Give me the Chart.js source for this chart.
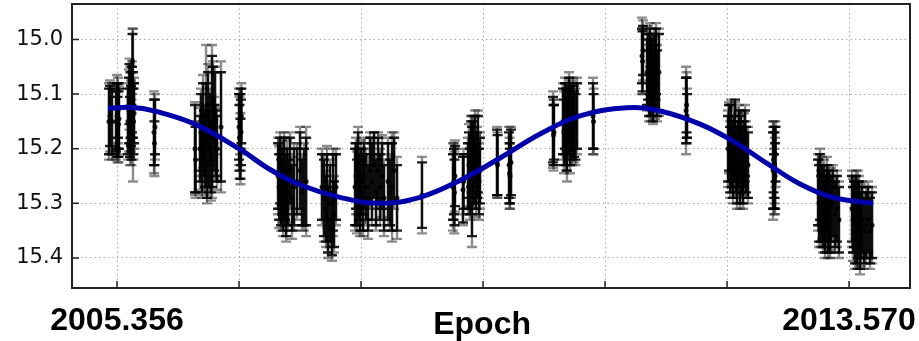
<!DOCTYPE html>
<html lang="en">
<head>
    <meta charset="UTF-8">
    <title>Light curve - Epoch</title>
    <script src="https://cdn.jsdelivr.net/npm/chart.js"></script>
    <style>
        body {
            margin: 0;
            padding: 0;
            background-color: #ffffff;
        }

        .chart-box {
            position: relative;
            width: 919px;
            height: 341px;
        }
    </style>
</head>
<body>
    <div class="chart-box">
        <canvas id="lightCurve"></canvas>
    </div>

    <script>
        // axis ticks
        const xTicks = [2005.356, 2006.725, 2008.094, 2009.463, 2010.832, 2012.201, 2013.570];
        const xTickLabels = ['2005.356', '', '', '', '', '', '2013.570'];
        const yTicks = [15.0, 15.1, 15.2, 15.3, 15.4];

        // observations, one line per season: epoch, magnitude, inner (black) error, outer (grey) error
        const epochs = [
            2005.266, 2005.277, 2005.300,
            2005.345, 2005.356, 2005.362, 2005.367, 2005.373, 2005.378,
            2005.479, 2005.490, 2005.496, 2005.502, 2005.507, 2005.513, 2005.518, 2005.524, 2005.530, 2005.535, 2005.541, 2005.547,
            2005.771, 2005.776, 2005.782,
            2006.231, 2006.237,
            2006.287, 2006.298, 2006.310, 2006.321, 2006.332, 2006.343, 2006.355, 2006.366, 2006.377, 2006.388, 2006.399, 2006.411, 2006.422, 2006.433, 2006.445, 2006.456, 2006.467, 2006.478, 2006.523,
            2006.725, 2006.730, 2006.736, 2006.741, 2006.747, 2006.752,
            2007.163, 2007.175, 2007.186, 2007.197, 2007.208, 2007.220, 2007.231, 2007.242, 2007.253, 2007.265, 2007.276, 2007.297, 2007.320, 2007.342, 2007.376, 2007.410, 2007.432, 2007.455, 2007.478,
            2007.656, 2007.678, 2007.701, 2007.712, 2007.723, 2007.746, 2007.768, 2007.780, 2007.791, 2007.813,
            2008.027, 2008.038, 2008.050, 2008.061, 2008.072, 2008.083, 2008.095, 2008.117, 2008.128, 2008.150, 2008.173, 2008.195, 2008.217, 2008.240, 2008.262, 2008.285, 2008.307, 2008.330, 2008.352, 2008.397, 2008.420, 2008.442, 2008.465, 2008.498,
            2008.778,
            2009.126, 2009.137, 2009.142, 2009.148,
            2009.238, 2009.244,
            2009.294, 2009.305, 2009.316, 2009.328, 2009.339, 2009.350, 2009.361, 2009.373, 2009.384, 2009.395, 2009.406, 2009.418, 2009.429,
            2009.620, 2009.626,
            2009.755, 2009.761, 2009.766, 2009.777,
            2010.248, 2010.254, 2010.259,
            2010.360, 2010.371, 2010.383, 2010.394, 2010.405, 2010.416, 2010.428, 2010.439, 2010.450, 2010.461, 2010.473, 2010.484, 2010.500, 2010.518,
            2010.697, 2010.703,
            2011.247, 2011.253, 2011.258,
            2011.303, 2011.314, 2011.326, 2011.337, 2011.348, 2011.359, 2011.371, 2011.382, 2011.393, 2011.404, 2011.416, 2011.437,
            2011.741, 2011.747, 2011.752,
            2012.212, 2012.223, 2012.235, 2012.246, 2012.257, 2012.268, 2012.280, 2012.291, 2012.302, 2012.313, 2012.325, 2012.336, 2012.347, 2012.358, 2012.370, 2012.381, 2012.392, 2012.403, 2012.414, 2012.436,
            2012.717, 2012.723, 2012.728, 2012.734, 2012.740, 2012.745,
            2013.222, 2013.233, 2013.245, 2013.256, 2013.267, 2013.278, 2013.290, 2013.301, 2013.312, 2013.323, 2013.335, 2013.346, 2013.357, 2013.368, 2013.390, 2013.412, 2013.435, 2013.457,
            2013.603, 2013.614, 2013.626, 2013.637, 2013.648, 2013.659, 2013.670, 2013.682, 2013.693, 2013.704, 2013.716, 2013.738, 2013.760, 2013.783, 2013.805, 2013.828
        ];

        const mags = [
            15.150, 15.140, 15.150,
            15.150, 15.140, 15.160, 15.130, 15.155, 15.145,
            15.150, 15.130, 15.100, 15.160, 15.120, 15.140, 15.170, 15.110, 15.040, 15.120, 15.150, 15.135,
            15.170, 15.190, 15.160,
            15.200, 15.220,
            15.200, 15.170, 15.220, 15.150, 15.190, 15.210, 15.140, 15.230, 15.120, 15.200, 15.160, 15.220, 15.150, 15.110, 15.180, 15.130, 15.190, 15.200, 15.160,
            15.160, 15.180, 15.150, 15.200, 15.170, 15.140,
            15.250, 15.270, 15.240, 15.280, 15.260, 15.290, 15.250, 15.270, 15.300, 15.260, 15.280, 15.240, 15.290, 15.270, 15.260, 15.240, 15.280, 15.270, 15.260,
            15.270, 15.290, 15.310, 15.270, 15.330, 15.300, 15.340, 15.280, 15.320, 15.270,
            15.270, 15.250, 15.280, 15.240, 15.270, 15.290, 15.260, 15.280, 15.250, 15.270, 15.290, 15.240, 15.260, 15.230, 15.280, 15.240, 15.270, 15.250, 15.290, 15.260, 15.280, 15.270, 15.240, 15.290,
            15.285,
            15.270, 15.260, 15.280, 15.250,
            15.275, 15.260,
            15.250, 15.230, 15.260, 15.210, 15.260, 15.220, 15.240, 15.200, 15.250, 15.230, 15.210, 15.260, 15.240,
            15.225, 15.230,
            15.230, 15.245, 15.250, 15.225,
            15.165, 15.175, 15.170,
            15.150, 15.170, 15.140, 15.160, 15.180, 15.150, 15.130, 15.170, 15.145, 15.160, 15.135, 15.155, 15.160, 15.140,
            15.140, 15.150,
            15.030, 15.040, 15.020,
            15.060, 15.050, 15.080, 15.040, 15.070, 15.060, 15.090, 15.050, 15.070, 15.040, 15.080, 15.060,
            15.130, 15.120, 15.140,
            15.200, 15.180, 15.220, 15.190, 15.210, 15.230, 15.200, 15.180, 15.220, 15.240, 15.210, 15.190, 15.230, 15.200, 15.220, 15.240, 15.210, 15.190, 15.220, 15.230,
            15.240, 15.220, 15.260, 15.230, 15.250, 15.210,
            15.280, 15.300, 15.270, 15.310, 15.290, 15.320, 15.300, 15.330, 15.310, 15.290, 15.320, 15.300, 15.330, 15.310, 15.300, 15.320, 15.310, 15.330,
            15.310, 15.330, 15.320, 15.340, 15.310, 15.350, 15.330, 15.320, 15.360, 15.340, 15.330, 15.350, 15.340, 15.330, 15.350, 15.340
        ];

        const errIn = [
            0.060, 0.055, 0.060,
            0.055, 0.060, 0.055, 0.050, 0.060, 0.055,
            0.060, 0.060, 0.055, 0.055, 0.060, 0.055, 0.050, 0.060, 0.050, 0.060, 0.060, 0.055,
            0.060, 0.040, 0.050,
            0.080, 0.060,
            0.060, 0.070, 0.060, 0.070, 0.060, 0.060, 0.060, 0.060, 0.060, 0.070, 0.060, 0.060, 0.120, 0.060, 0.060, 0.070, 0.060, 0.060, 0.100,
            0.060, 0.060, 0.050, 0.055, 0.060, 0.050,
            0.060, 0.060, 0.060, 0.060, 0.060, 0.060, 0.070, 0.060, 0.060, 0.060, 0.060, 0.060, 0.060, 0.070, 0.060, 0.070, 0.060, 0.070, 0.080,
            0.060, 0.070, 0.060, 0.060, 0.060, 0.070, 0.055, 0.070, 0.060, 0.060,
            0.070, 0.060, 0.060, 0.070, 0.060, 0.060, 0.060, 0.070, 0.060, 0.060, 0.060, 0.060, 0.070, 0.060, 0.060, 0.060, 0.060, 0.060, 0.060, 0.070, 0.060, 0.080, 0.060, 0.060,
            0.060,
            0.060, 0.060, 0.060, 0.055,
            0.060, 0.050,
            0.060, 0.060, 0.060, 0.060, 0.100, 0.070, 0.060, 0.060, 0.060, 0.060, 0.070, 0.060, 0.060,
            0.060, 0.055,
            0.060, 0.055, 0.050, 0.060,
            0.060, 0.055, 0.050,
            0.060, 0.060, 0.060, 0.070, 0.060, 0.060, 0.060, 0.060, 0.060, 0.060, 0.055, 0.060, 0.060, 0.060,
            0.060, 0.050,
            0.050, 0.055, 0.045,
            0.060, 0.060, 0.060, 0.060, 0.070, 0.060, 0.060, 0.060, 0.060, 0.060, 0.060, 0.070,
            0.060, 0.050, 0.040,
            0.060, 0.060, 0.060, 0.070, 0.060, 0.060, 0.060, 0.070, 0.060, 0.060, 0.060, 0.060, 0.070, 0.060, 0.060, 0.060, 0.060, 0.060, 0.060, 0.060,
            0.070, 0.060, 0.050, 0.060, 0.060, 0.050,
            0.060, 0.070, 0.060, 0.060, 0.060, 0.060, 0.070, 0.060, 0.060, 0.060, 0.070, 0.060, 0.060, 0.060, 0.060, 0.060, 0.060, 0.060,
            0.060, 0.060, 0.060, 0.070, 0.060, 0.060, 0.070, 0.060, 0.060, 0.060, 0.060, 0.060, 0.060, 0.060, 0.060, 0.060
        ];

        const errOut = [
            0.070, 0.065, 0.070,
            0.070, 0.075, 0.065, 0.060, 0.070, 0.065,
            0.070, 0.075, 0.065, 0.070, 0.070, 0.065, 0.060, 0.070, 0.060, 0.140, 0.070, 0.065,
            0.075, 0.060, 0.060,
            0.085, 0.070,
            0.075, 0.080, 0.070, 0.085, 0.070, 0.075, 0.130, 0.070, 0.075, 0.080, 0.070, 0.075, 0.140, 0.070, 0.075, 0.080, 0.070, 0.075, 0.120,
            0.070, 0.075, 0.060, 0.065, 0.070, 0.060,
            0.070, 0.075, 0.070, 0.070, 0.075, 0.070, 0.080, 0.070, 0.070, 0.075, 0.070, 0.070, 0.075, 0.080, 0.070, 0.080, 0.070, 0.080, 0.100,
            0.070, 0.080, 0.070, 0.075, 0.070, 0.080, 0.065, 0.080, 0.070, 0.070,
            0.080, 0.070, 0.075, 0.080, 0.070, 0.070, 0.075, 0.080, 0.070, 0.070, 0.075, 0.070, 0.080, 0.060, 0.070, 0.070, 0.070, 0.075, 0.070, 0.080, 0.070, 0.100, 0.070, 0.075,
            0.070,
            0.080, 0.070, 0.075, 0.065,
            0.065, 0.060,
            0.070, 0.075, 0.070, 0.070, 0.120, 0.080, 0.070, 0.070, 0.075, 0.070, 0.080, 0.070, 0.070,
            0.065, 0.060,
            0.070, 0.065, 0.060, 0.065,
            0.070, 0.065, 0.060,
            0.070, 0.075, 0.070, 0.080, 0.080, 0.070, 0.070, 0.075, 0.070, 0.070, 0.065, 0.070, 0.070, 0.070,
            0.070, 0.060,
            0.070, 0.060, 0.055,
            0.070, 0.075, 0.070, 0.070, 0.080, 0.070, 0.065, 0.070, 0.075, 0.070, 0.070, 0.080,
            0.080, 0.060, 0.050,
            0.070, 0.065, 0.070, 0.080, 0.070, 0.070, 0.075, 0.065, 0.070, 0.070, 0.075, 0.070, 0.080, 0.070, 0.070, 0.070, 0.075, 0.070, 0.070, 0.070,
            0.090, 0.070, 0.060, 0.070, 0.070, 0.060,
            0.070, 0.080, 0.070, 0.070, 0.075, 0.070, 0.080, 0.070, 0.070, 0.075, 0.080, 0.070, 0.070, 0.075, 0.070, 0.070, 0.070, 0.070,
            0.070, 0.075, 0.070, 0.080, 0.070, 0.070, 0.090, 0.070, 0.070, 0.075, 0.070, 0.070, 0.070, 0.070, 0.070, 0.070
        ];

        // fitted curve
        const fitEpochs = [2005.255, 2005.502, 2005.782, 2006.231, 2006.725, 2007.073, 2007.409, 2007.858, 2008.307,
            2008.756, 2009.205, 2009.654, 2010.103, 2010.551, 2011.079, 2011.449, 2011.898, 2012.268, 2012.650,
            2013.014, 2013.390, 2013.839];
        const fitMags = [15.126, 15.124, 15.131, 15.155, 15.200, 15.238, 15.266, 15.289, 15.300,
            15.289, 15.258, 15.217, 15.173, 15.140, 15.125, 15.131, 15.155, 15.186, 15.227,
            15.264, 15.289, 15.300];

        const points = epochs.map((t, i) => ({ x: t, y: mags[i] }));
        const fit = fitEpochs.map((t, i) => ({ x: t, y: fitMags[i] }));

        // error bars under the observation points
        const errorBars = {
            id: 'errorBars',
            beforeDatasetDraw(chart, args) {
                if (args.index !== 1) return;
                const ctx = chart.ctx;
                const xs = chart.scales.x;
                const ys = chart.scales.y;
                const cap = 5;

                function bar(err, color) {
                    ctx.strokeStyle = color;
                    ctx.lineWidth = 2.4;
                    epochs.forEach((t, i) => {
                        const px = xs.getPixelForValue(t);
                        const y1 = ys.getPixelForValue(mags[i] - err[i]);
                        const y2 = ys.getPixelForValue(mags[i] + err[i]);
                        ctx.beginPath();
                        ctx.moveTo(px, y1);
                        ctx.lineTo(px, y2);
                        ctx.moveTo(px - cap, y1);
                        ctx.lineTo(px + cap, y1);
                        ctx.moveTo(px - cap, y2);
                        ctx.lineTo(px + cap, y2);
                        ctx.stroke();
                    });
                }

                ctx.save();
                bar(errOut, 'rgba(0, 0, 0, 0.45)');
                bar(errIn, 'rgba(0, 0, 0, 0.88)');
                ctx.restore();
            }
        };

        // frame and inward tick marks
        const frame = {
            id: 'frame',
            afterDraw(chart) {
                const ctx = chart.ctx;
                const a = chart.chartArea;
                const xs = chart.scales.x;
                const ys = chart.scales.y;
                ctx.save();
                ctx.strokeStyle = '#222222';
                ctx.lineWidth = 1.5;
                ctx.beginPath();
                xTicks.forEach(v => {
                    const px = xs.getPixelForValue(v);
                    ctx.moveTo(px, a.bottom);
                    ctx.lineTo(px, a.bottom - 7);
                });
                yTicks.forEach(v => {
                    const py = ys.getPixelForValue(v);
                    ctx.moveTo(a.left, py);
                    ctx.lineTo(a.left + 7, py);
                });
                ctx.stroke();
                ctx.lineWidth = 2;
                ctx.strokeRect(a.left, a.top, a.right - a.left, a.bottom - a.top);
                ctx.restore();
            }
        };

        const ctx = document.getElementById('lightCurve').getContext('2d');

        new Chart(ctx, {
            type: 'scatter',
            data: {
                datasets: [
                    {
                        type: 'line',
                        label: 'Fit',
                        data: fit,
                        borderColor: '#0000aa',
                        borderWidth: 5,
                        pointRadius: 0,
                        tension: 0.4,
                        fill: false,
                        order: 0
                    },
                    {
                        label: 'Observations',
                        data: points,
                        backgroundColor: 'rgba(0, 0, 0, 0.85)',
                        borderWidth: 0,
                        pointRadius: 2.5,
                        order: 1
                    }
                ]
            },
            options: {
                responsive: true,
                maintainAspectRatio: false,
                animation: false,
                layout: {
                    padding: { top: 3, right: 9, left: 0, bottom: 0 }
                },
                plugins: {
                    legend: { display: false },
                    tooltip: { enabled: false }
                },
                scales: {
                    x: {
                        type: 'linear',
                        min: 2004.851,
                        max: 2014.254,
                        afterBuildTicks: scale => {
                            scale.ticks = xTicks.map(v => ({ value: v }));
                        },
                        afterFit: scale => {
                            scale.height = 53;
                            scale.paddingLeft = 0;
                            scale.paddingRight = 0;
                        },
                        ticks: {
                            autoSkip: false,
                            maxRotation: 0,
                            minRotation: 0,
                            padding: 14,
                            color: '#000000',
                            font: { family: "'Liberation Sans', Arial, sans-serif", size: 32, weight: 'bold' },
                            callback: (value, index) => xTickLabels[index]
                        },
                        grid: {
                            color: '#aaaaaa',
                            lineWidth: 1,
                            drawTicks: false
                        },
                        border: { display: false, dash: [1.5, 3] },
                        title: {
                            display: true,
                            // trailing spaces pull the centred title onto the middle tick
                            text: 'Epoch  ',
                            color: '#000000',
                            padding: { top: 0, bottom: -3 },
                            font: { family: "'Liberation Sans', Arial, sans-serif", size: 32, weight: 'bold' }
                        }
                    },
                    y: {
                        reverse: true,
                        min: 14.935,
                        max: 15.455,
                        afterBuildTicks: scale => {
                            scale.ticks = yTicks.map(v => ({ value: v }));
                        },
                        afterFit: scale => {
                            scale.width = 72;
                            scale.paddingTop = 0;
                            scale.paddingBottom = 0;
                        },
                        ticks: {
                            padding: 9,
                            color: '#111111',
                            font: { family: "'DejaVu Sans', sans-serif", size: 21 },
                            callback: value => value.toFixed(1)
                        },
                        grid: {
                            color: '#aaaaaa',
                            lineWidth: 1,
                            drawTicks: false
                        },
                        border: { display: false, dash: [1.5, 3] }
                    }
                }
            },
            plugins: [errorBars, frame]
        });
    </script>
</body>
</html>
